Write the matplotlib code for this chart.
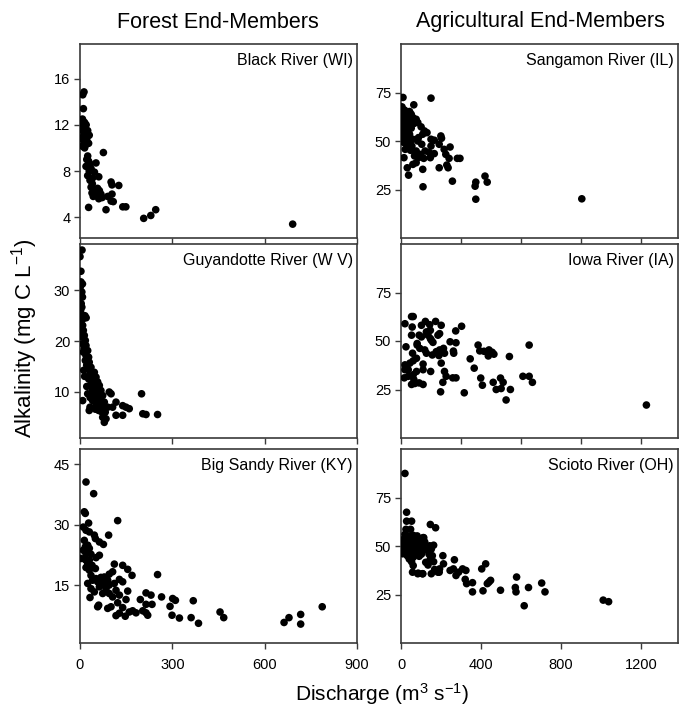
import numpy as np
import matplotlib
matplotlib.use("Agg")
import matplotlib.pyplot as plt

plt.rcParams['font.family'] = ['Liberation Sans', 'DejaVu Sans']
plt.rcParams['mathtext.fontset'] = 'custom'
plt.rcParams['mathtext.rm'] = 'Liberation Sans'
plt.rcParams['mathtext.it'] = 'Liberation Sans:italic'

# ---------------- data (discharge m3/s, alkalinity mg C/L) ----------------
black_river = [
    (13, 14.85), (9, 14.6), (11, 13.4), (8, 12.5), (10, 12.3), (15, 12.2), (20, 12.0),
    (12, 11.7), (25, 11.5), (10, 11.45), (18, 11.2), (30, 11.1), (22, 10.8), (12, 10.6),
    (28, 10.4), (8, 10.15), (15, 10.0), (20, 10.3), (5, 12.1), (14, 11.9), (6, 10.9),
    (17, 10.5), (76, 9.6), (25, 9.3), (22, 9.0), (28, 8.85), (52, 8.7), (33, 8.6),
    (19.5, 8.4), (36, 8.2), (30, 8.0), (47, 7.9), (25, 7.6), (41, 7.4), (61, 7.5),
    (32.5, 7.2), (101, 7.05), (104, 6.8), (126, 6.75), (40, 6.9), (36, 6.6), (57, 6.5),
    (47, 6.4), (63, 6.3), (50, 6.2), (39, 6.1), (54, 5.95), (68, 6.0), (43, 5.8),
    (61, 5.6), (72, 5.7), (90, 5.8), (104, 6.0), (101, 5.4), (108, 5.35), (28, 4.85),
    (84.5, 4.65), (139, 4.9), (149, 4.9), (207, 3.9), (230, 4.15), (246, 4.65), (691, 3.4),
]

guyandotte_river = [
    (6.5, 38.0), (0, 36.7), (3, 33.8), (3, 31.7), (8, 31.3), (1, 30.7), (6, 29.7),
    (2, 29.0), (8, 28.7), (4, 27.4), (6, 26.7), (2, 26.0), (0, 25.4), (16, 25.0),
    (20, 24.6), (10, 24.4), (0, 24.1), (3.3, 23.4), (8.7, 23.1), (0, 22.75), (10.8, 22.1),
    (6.5, 21.8), (14, 21.1), (3.3, 20.8), (17.3, 20.1), (8.7, 19.45), (19.5, 19.1),
    (14, 18.5), (25, 18.1), (10.8, 17.8), (19.5, 17.1), (28, 16.8), (17.3, 16.15),
    (30, 15.8), (21.7, 15.2), (35.7, 14.8), (26, 14.5), (46.6, 13.8), (32.5, 13.5),
    (41, 13.2), (52, 12.85), (28, 12.5), (46.6, 12.2), (57.4, 11.9), (35.7, 11.5),
    (62.8, 11.2), (49.8, 10.9), (41, 10.2), (68, 10.2), (54, 9.9), (25, 9.55),
    (73.7, 9.2), (57.4, 8.9), (41, 8.2), (65, 8.2), (79, 7.9), (52, 7.2), (32.5, 6.9),
    (71.5, 6.9), (90, 6.9), (60.7, 6.25), (82, 5.9), (30, 6.25), (106, 6.9), (95, 9.9),
    (101, 9.55), (117, 7.9), (138.7, 7.2), (149.5, 6.9), (160, 6.6), (200, 9.55),
    (204, 5.6), (214.5, 5.45), (252, 5.45), (117, 5.3), (138.7, 5.3), (73.7, 4.9),
    (84.5, 4.6), (79, 3.9), (8.7, 8.2), (15, 13.0), (22, 11.0), (12, 14.2), (38, 10.8),
    (45, 9.5), (60, 7.8), (33, 8.8), (50, 6.5), (70, 6.0),
]

big_sandy_river = [
    (19.5, 40.6), (44.4, 37.7), (14, 33.2), (17.3, 32.8), (122.4, 31.0), (28, 30.4),
    (10.8, 29.4), (19.5, 28.6), (30.3, 28.2), (93, 27.4), (46.6, 27.4), (50, 26.55),
    (14, 26.1), (63, 25.7), (76, 25.1), (25, 24.9), (17.3, 24.5), (30.3, 24.1),
    (10.8, 23.65), (25, 23.2), (19.5, 22.8), (35.7, 22.65), (63, 22.4), (3.3, 21.6),
    (17.3, 21.3), (30.3, 21.2), (52, 21.8), (25, 20.3), (39, 19.9), (19.5, 19.35),
    (30.3, 18.7), (111.6, 20.2), (138.7, 19.9), (155, 18.9), (50, 19.1), (106, 18.3),
    (169, 17.4), (252, 17.6), (95, 17.7), (35.7, 17.4), (79, 17.0), (52, 16.6),
    (68, 16.9), (90, 16.2), (128, 16.4), (57.4, 15.8), (41, 16.2), (73.7, 15.4),
    (138.7, 15.8), (25, 15.4), (95, 15.0), (111.6, 15.4), (63, 14.55), (84.5, 14.1),
    (35.7, 14.1), (117, 13.7), (155, 13.5), (46.6, 13.3), (95, 12.9), (73.7, 12.9),
    (128, 12.5), (214.5, 13.05), (230.7, 12.5), (106, 12.05), (32.5, 11.9),
    (149.5, 11.4), (196, 11.4), (265, 12.05), (301, 11.65), (310, 11.2), (368, 11.1),
    (122.4, 10.6), (214.5, 10.2), (234, 10.2), (292.5, 9.7), (60.7, 10.0), (57.4, 9.6),
    (100.7, 9.6), (90, 9.2), (138.7, 9.4), (204, 8.6), (171, 8.6), (160, 8.3),
    (182, 8.1), (214.5, 8.1), (128, 8.0), (220, 7.5), (147, 7.25), (117, 7.4),
    (299, 7.5), (323, 6.8), (361, 6.9), (385, 5.5), (455, 8.3), (467, 6.9),
    (663, 5.7), (679, 6.9), (717, 7.7), (717, 5.3), (787, 9.6),
]

sangamon_river = [
    (10, 72.45), (150, 72.1), (5, 67.6), (64, 68.65), (18.1, 65.9), (42.8, 65.2),
    (9.9, 63.8), (51.1, 63.8), (31.3, 63.0), (1.7, 62.1), (59.3, 62.1), (21.4, 60.7),
    (47.8, 60.0), (75.8, 61.2), (9.9, 59.0), (34.6, 58.3), (64.3, 59.0), (84, 59.5),
    (5, 56.9), (26.4, 56.1), (51.1, 56.6), (100.5, 57.3), (18.1, 54.3), (42.8, 53.5),
    (117, 55.2), (130, 54.3), (108.7, 53.5), (9.9, 52.6), (31.3, 51.75), (59.3, 50.9),
    (87.3, 51.75), (150, 50.9), (166.4, 50.4), (199.3, 52.6), (202.6, 51.4),
    (14.8, 49.2), (34.6, 48.3), (54.4, 47.4), (84, 50.0), (103.8, 48.3), (150, 47.4),
    (191, 48.3), (215.8, 45.7), (245.4, 46.9), (21.4, 45.7), (47.8, 45.2), (75.8, 44.85),
    (97.2, 43.1), (120.3, 44.85), (141.7, 44.0), (166.4, 43.5), (224, 43.1), (14.8, 41.4),
    (67.6, 42.3), (87.3, 41.4), (113.7, 41.05), (146.6, 41.4), (240.5, 41.05),
    (281.7, 41.05), (294.8, 41.05), (31.3, 36.2), (59.3, 37.95), (75.8, 38.8),
    (108.7, 35.4), (191, 36.2), (229, 37.6), (235.5, 36.2), (37.9, 32.4), (257, 29.3),
    (420, 31.9), (431, 28.8), (374, 28.8), (370.5, 26.7), (374, 20.0), (110, 26.4),
    (904, 20.2), (1.7, 64.7), (5, 60.4), (18.1, 57.8), (1.7, 55.2), (26.4, 60.0),
    (0, 51.75), (5, 50.0), (42.8, 50.0),
]

iowa_river = [
    (19.8, 58.9), (52.8, 62.6), (61, 62.6), (56, 57.2), (52.8, 53.0), (24.8, 47.0),
    (57.7, 43.7), (80.8, 48.7), (90.7, 53.0), (80.8, 47.9), (102.2, 58.1), (122, 60.1),
    (102.2, 52.1), (126.9, 54.7), (135, 53.0), (146.7, 55.5), (143.4, 58.4), (173, 60.1),
    (151.6, 50.4), (159.8, 49.3), (146.7, 51.3), (94, 46.2), (118.7, 45.4), (127, 43.7),
    (156.6, 42.8), (176.3, 44.5), (193, 45.4), (212.5, 46.2), (217.5, 43.7), (189.5, 42.5),
    (201, 58.1), (193, 53.8), (184.7, 53.0), (245.5, 49.6), (273.5, 55.2), (303, 57.6),
    (275, 49.1), (262, 44.8), (263.6, 43.7), (19.8, 37.7), (28, 36.4), (44.5, 38.6),
    (36.3, 35.2), (61, 39.8), (77.5, 41.1), (16.5, 31.0), (36.3, 31.8), (61, 32.6),
    (77.5, 34.3), (110.4, 38.1), (110.4, 35.2), (148.3, 34.3), (52.8, 27.6), (69.3, 28.1),
    (90.7, 28.4), (110.4, 27.6), (64.3, 30.1), (19.8, 35.2), (201, 38.6), (217.5, 34.3),
    (225.7, 31.8), (209.3, 28.7), (198, 23.8), (258.7, 31.0), (275, 31.0), (316.3, 23.3),
    (346, 40.8), (366, 36.0), (385.5, 47.9), (393.8, 44.9), (415, 44.7), (439.8, 45.4),
    (456, 44.2), (464.5, 43.2), (436.5, 42.3), (398.7, 30.9), (407, 27.2), (461, 28.7),
    (476, 25.0), (500.7, 25.5), (497.5, 30.9), (510.7, 28.7), (525.5, 19.6), (542, 42.0),
    (547, 25.0), (609.5, 31.8), (640.8, 47.9), (640.8, 31.8), (657, 28.7), (1227, 17.0),
]

scioto_river = [
    (19.8, 87.4), (28, 67.4), (28, 62.8), (53, 62.8), (146.7, 61.1), (173, 59.4),
    (24.8, 58.6), (48, 58.6), (19.8, 56.0), (36.3, 55.2), (61, 55.5), (80.8, 55.2),
    (110.4, 54.3), (14.9, 53.5), (44.5, 52.6), (69.3, 53.5), (94, 52.6), (118.7, 52.1),
    (28, 50.9), (57.7, 50.4), (85.7, 50.9), (107.1, 50.1), (11.6, 50.1), (36.3, 49.2),
    (64.3, 48.7), (90.7, 48.4), (118.7, 48.0), (24.8, 47.0), (44.5, 46.7), (77.5, 46.3),
    (102.2, 45.8), (31.4, 45.0), (61, 44.2), (90.7, 44.7), (41.3, 43.3), (52.8, 41.9),
    (61, 39.9), (57.7, 36.5), (85.7, 36.0), (107.1, 35.7), (113.7, 54.3), (143.4, 50.1),
    (151.6, 48.4), (163.1, 50.4), (140, 45.8), (156.6, 45.0), (146.7, 43.3), (163.1, 41.9),
    (123.6, 41.6), (135, 40.2), (168, 37.9), (151.6, 35.7), (184.5, 36.5), (192.8, 38.2),
    (209.3, 45.0), (212.5, 40.8), (245.5, 37.4), (267, 42.9), (262, 38.2), (275, 34.8),
    (288, 36.5), (308, 38.2), (324.5, 37.4), (321, 32.8), (328, 30.6), (357.5, 31.1),
    (357.5, 26.35), (403.6, 38.2), (423.4, 40.8), (410, 26.9), (431.6, 30.6),
    (439.8, 31.4), (448, 32.3), (497.5, 27.2), (571.6, 28.6), (578, 34.0), (575, 26.35),
    (616, 19.2), (637.5, 28.6), (703.4, 30.9), (720, 26.35), (1011, 22.1), (1038, 21.3),
    (3, 51.0), (5, 48.0), (2, 53.0), (8, 46.0), (84, 35.7), (109, 35.7), (191, 36.5),
]

panel_names = ["Black River (WI)", "Sangamon River (IL)",
               "Guyandotte River (W V)", "Iowa River (IA)",
               "Big Sandy River (KY)", "Scioto River (OH)"]
column_titles = ["Forest End-Members", "Agricultural End-Members"]

panels = [
    # data, ylim, yticks, xlim, xticks
    (black_river, (2.2, 19.0), [4, 8, 12, 16], (0, 900), [0, 300, 600, 900]),
    (sangamon_river, (0, 100), [25, 50, 75], (0, 1385), [0, 300, 600, 900, 1200]),
    (guyandotte_river, (0.8, 39.2), [10, 20, 30], (0, 900), [0, 300, 600, 900]),
    (iowa_river, (0, 100), [25, 50, 75], (0, 1385), [0, 300, 600, 900, 1200]),
    (big_sandy_river, (0.6, 48.8), [15, 30, 45], (0, 900), [0, 300, 600, 900]),
    (scioto_river, (0, 100), [25, 50, 75], (0, 1385), [0, 400, 800, 1200]),
]

# ---------------- figure ----------------
W, H = 682, 708
fig = plt.figure(figsize=(W / 100, H / 100), dpi=100)

col_left = [80, 401]
col_width = 277
row_top = [44, 244, 449]
row_height = 194

spine_color = "#3a3a3a"
for i, (data, ylim, yticks, xlim, xticks) in enumerate(panels):
    r, c = divmod(i, 2)
    left = col_left[c] / W
    bottom = 1 - (row_top[r] + row_height) / H
    ax = fig.add_axes([left, bottom, col_width / W, row_height / H])
    arr = np.array(data, dtype=float)
    ax.scatter(arr[:, 0], arr[:, 1], s=30, color="black", edgecolors="none", zorder=3)
    ax.set_xlim(*xlim)
    ax.set_ylim(*ylim)
    ax.set_yticks(yticks)
    ax.set_xticks(xticks)
    ax.tick_params(direction="out", length=4, width=1, color=spine_color,
                   labelsize=10.5, pad=3, top=False, right=False)
    if r < 2:
        ax.set_xticklabels([])
    else:
        ax.tick_params(axis="x", pad=7)
    for sp in ax.spines.values():
        sp.set_color(spine_color)
        sp.set_linewidth(1.2)
    ax.text(0.985, 0.955, panel_names[i], transform=ax.transAxes,
            ha="right", va="top", fontsize=11.5)

fig.text(218 / W, 1 - 22 / H, column_titles[0], ha="center", va="center", fontsize=15.5)
fig.text(540 / W, 1 - 22 / H, column_titles[1], ha="center", va="center", fontsize=15.5)
fig.text(25 / W, 1 - 338 / H, r"Alkalinity (mg C L$^{\mathregular{-1}}$)", rotation=90,
         ha="center", va="center", fontsize=16)
fig.text(382 / W, 1 - 694 / H, r"Discharge (m$^{\mathregular{3}}$ s$^{\mathregular{-1}}$)",
         ha="center", va="center", fontsize=15)

fig.savefig("out.png", dpi=100)
